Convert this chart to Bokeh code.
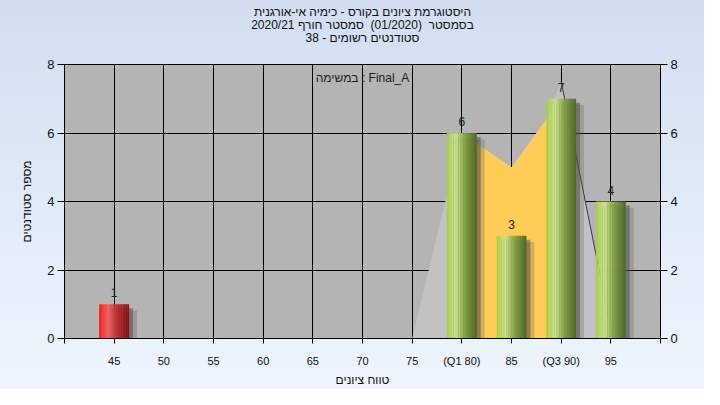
from bokeh.plotting import figure
from bokeh.models import FixedTicker, LinearAxis, Range1d, Title, Label, ColumnDataSource
from bokeh.embed import file_html
from bokeh.resources import INLINE
from bokeh.core.properties import value

# ---------------- data ----------------
grade_labels = ["45", "50", "55", "60", "65", "70", "75", "(Q1 80)", "85", "(Q3 90)", "95"]
student_counts = [1, 0, 0, 0, 0, 0, 0, 6, 3, 7, 4]
failing = [True, False, False, False, False, False, False, False, False, False, False]
iqr_pos = [7, 8, 9]
iqr_vals = [6, 5, 7]
spread_pos = [6, 7, 8, 9, 10]
spread_vals = [0, 6, 4, 7.5, 0.3]
y_ticks = [0, 2, 4, 6, 8]
title_lines = [
    "היסטוגרמת ציונים בקורס - כימיה אי-אורגנית",
    "בסמסטר \u00a0(01/2020) \u00a0סמסטר חורף 2020/21",
    "סטודנטים רשומים - 38",
]
task_text = "במשימה : Final_A"
x_title = "טווח ציונים"
y_title = "מספר סטודנטים"

FONT = "Liberation Sans"
n = len(grade_labels)

p = figure(width=704, height=389, output_backend="svg", toolbar_location=None,
           x_range=Range1d(-1, n), y_range=Range1d(0, 8), title=None,
           min_border_left=64, min_border_right=44, min_border_top=64, min_border_bottom=50)
p.styles = {"background": "linear-gradient(to bottom, #d2def0, #eef5fe)"}
p.border_fill_color = None
p.background_fill_color = "#b4b4b4"
p.outline_line_color = "black"

# spacer nearest to the frame, then titles (last added is top-most)
p.add_layout(Title(text=" ", text_font=FONT, text_font_size="12px", standoff=5), "above")
for line in reversed(title_lines):
    t = Title(text=line, align="center", text_font=FONT, text_font_size="12px",
              text_font_style="normal", text_color="#101010", standoff=-3, offset=-4)
    p.add_layout(t, "above")

# axes
xt = FixedTicker(ticks=list(range(-1, n + 1)))
p.xaxis.ticker = xt
overrides = {i: "" for i in range(-1, n + 1)}
for i, lab in enumerate(grade_labels):
    overrides[i] = lab
p.xaxis.major_label_overrides = overrides
p.xaxis.minor_tick_line_color = None
p.xaxis.major_tick_in = 0
p.xaxis.major_tick_out = 5
p.xaxis.major_label_standoff = 11
p.xaxis.major_label_text_font = FONT
p.xaxis.major_label_text_font_size = "11px"
p.xaxis.major_label_text_color = "#101010"
p.xaxis.axis_label = x_title
p.xaxis.axis_label_text_font = FONT
p.xaxis.axis_label_text_font_size = "12px"
p.xaxis.axis_label_text_font_style = "normal"
p.xaxis.axis_label_text_color = "#101010"
p.xaxis.axis_label_standoff = 3

p.yaxis.ticker = FixedTicker(ticks=y_ticks)
p.yaxis.minor_tick_line_color = None
p.yaxis.major_tick_in = 0
p.yaxis.major_tick_out = 7
p.yaxis.major_label_standoff = 3
p.yaxis.major_label_text_font = FONT
p.yaxis.major_label_text_font_size = "13px"
p.yaxis.major_label_text_color = "#101010"
p.yaxis.axis_label = y_title
p.yaxis.axis_label_text_font = FONT
p.yaxis.axis_label_text_font_size = "12px"
p.yaxis.axis_label_text_font_style = "normal"
p.yaxis.axis_label_text_color = "#101010"
p.yaxis.axis_label_standoff = 10

ra = LinearAxis(ticker=FixedTicker(ticks=y_ticks))
ra.minor_tick_line_color = None
ra.major_tick_in = 0
ra.major_tick_out = 7
ra.major_label_standoff = 3
ra.major_label_text_font = FONT
ra.major_label_text_font_size = "13px"
ra.major_label_text_color = "#101010"
p.add_layout(ra, "right")

p.xgrid.ticker = xt
p.xgrid.grid_line_color = "black"
p.ygrid.grid_line_color = "black"
p.xgrid.grid_line_alpha = 1
p.ygrid.grid_line_alpha = 1

# background areas
p.varea(x=spread_pos, y1=[0] * len(spread_pos), y2=spread_vals, fill_color="#c2c2c2")
p.line(x=spread_pos[-2:], y=spread_vals[-2:], line_color="#3a3a3a", line_width=1)
p.varea(x=iqr_pos, y1=[0] * len(iqr_pos), y2=iqr_vals, fill_color="#ffcc58")

# bars with shadows and cylinder-like gradient
BW = 0.6
NS = 18
green_stops = [(0.0, (164, 206, 64)), (0.3, (202, 228, 142)), (0.6, (128, 164, 70)), (1.0, (78, 102, 36))]
red_stops = [(0.0, (255, 20, 20)), (0.3, (240, 100, 100)), (0.6, (190, 45, 45)), (1.0, (125, 18, 18))]


def interp(stops, t):
    for (t0, c0), (t1, c1) in zip(stops[:-1], stops[1:]):
        if t <= t1:
            f = (t - t0) / (t1 - t0)
            return "#%02x%02x%02x" % tuple(int(round(a + (b - a) * f)) for a, b in zip(c0, c1))
    return "#%02x%02x%02x" % stops[-1][1]


sh_x, sh_top = [], []
st_x, st_top, st_col = [], [], []
lab_x, lab_y, lab_t = [], [], []
for i, (c, bad) in enumerate(zip(student_counts, failing)):
    if c <= 0:
        continue
    sh_x.append(i)
    sh_top.append(c)
    stops = red_stops if bad else green_stops
    for k in range(NS):
        t = (k + 0.5) / NS
        st_x.append(i - BW / 2 + t * BW)
        st_top.append(c)
        st_col.append(interp(stops, t))
    lab_x.append(i)
    lab_y.append(c)
    lab_t.append(str(c))

shadow = ColumnDataSource(dict(x=[v + 0.13 for v in sh_x], top=[v - 0.18 for v in sh_top]))
p.vbar(x="x", top="top", bottom=-1, width=BW + 0.06, source=shadow, fill_color="#555555",
       fill_alpha=0.25, line_color=None)
shadow2 = ColumnDataSource(dict(x=[v + 0.09 for v in sh_x], top=[v - 0.12 for v in sh_top]))
p.vbar(x="x", top="top", bottom=-1, width=BW - 0.02, source=shadow2, fill_color="#4a4a4a",
       fill_alpha=0.5, line_color=None)

strips = ColumnDataSource(dict(x=st_x, top=st_top, color=st_col))
p.vbar(x="x", top="top", bottom=0, width=BW / NS * 1.08, source=strips, fill_color="color",
       line_color=None)

labels = ColumnDataSource(dict(x=lab_x, y=lab_y, t=lab_t))
p.text(x="x", y="y", text="t", source=labels, text_align="center", text_baseline="bottom",
       y_offset=-7, text_font=value(FONT), text_font_size="12px", text_color="#202020")

p.add_layout(Label(x=5, y=7.62, text=task_text, text_align="center", text_baseline="middle",
                   text_font=FONT, text_font_size="12px", text_color="#202020"))

open("out.html", "w").write(file_html(p, INLINE))
